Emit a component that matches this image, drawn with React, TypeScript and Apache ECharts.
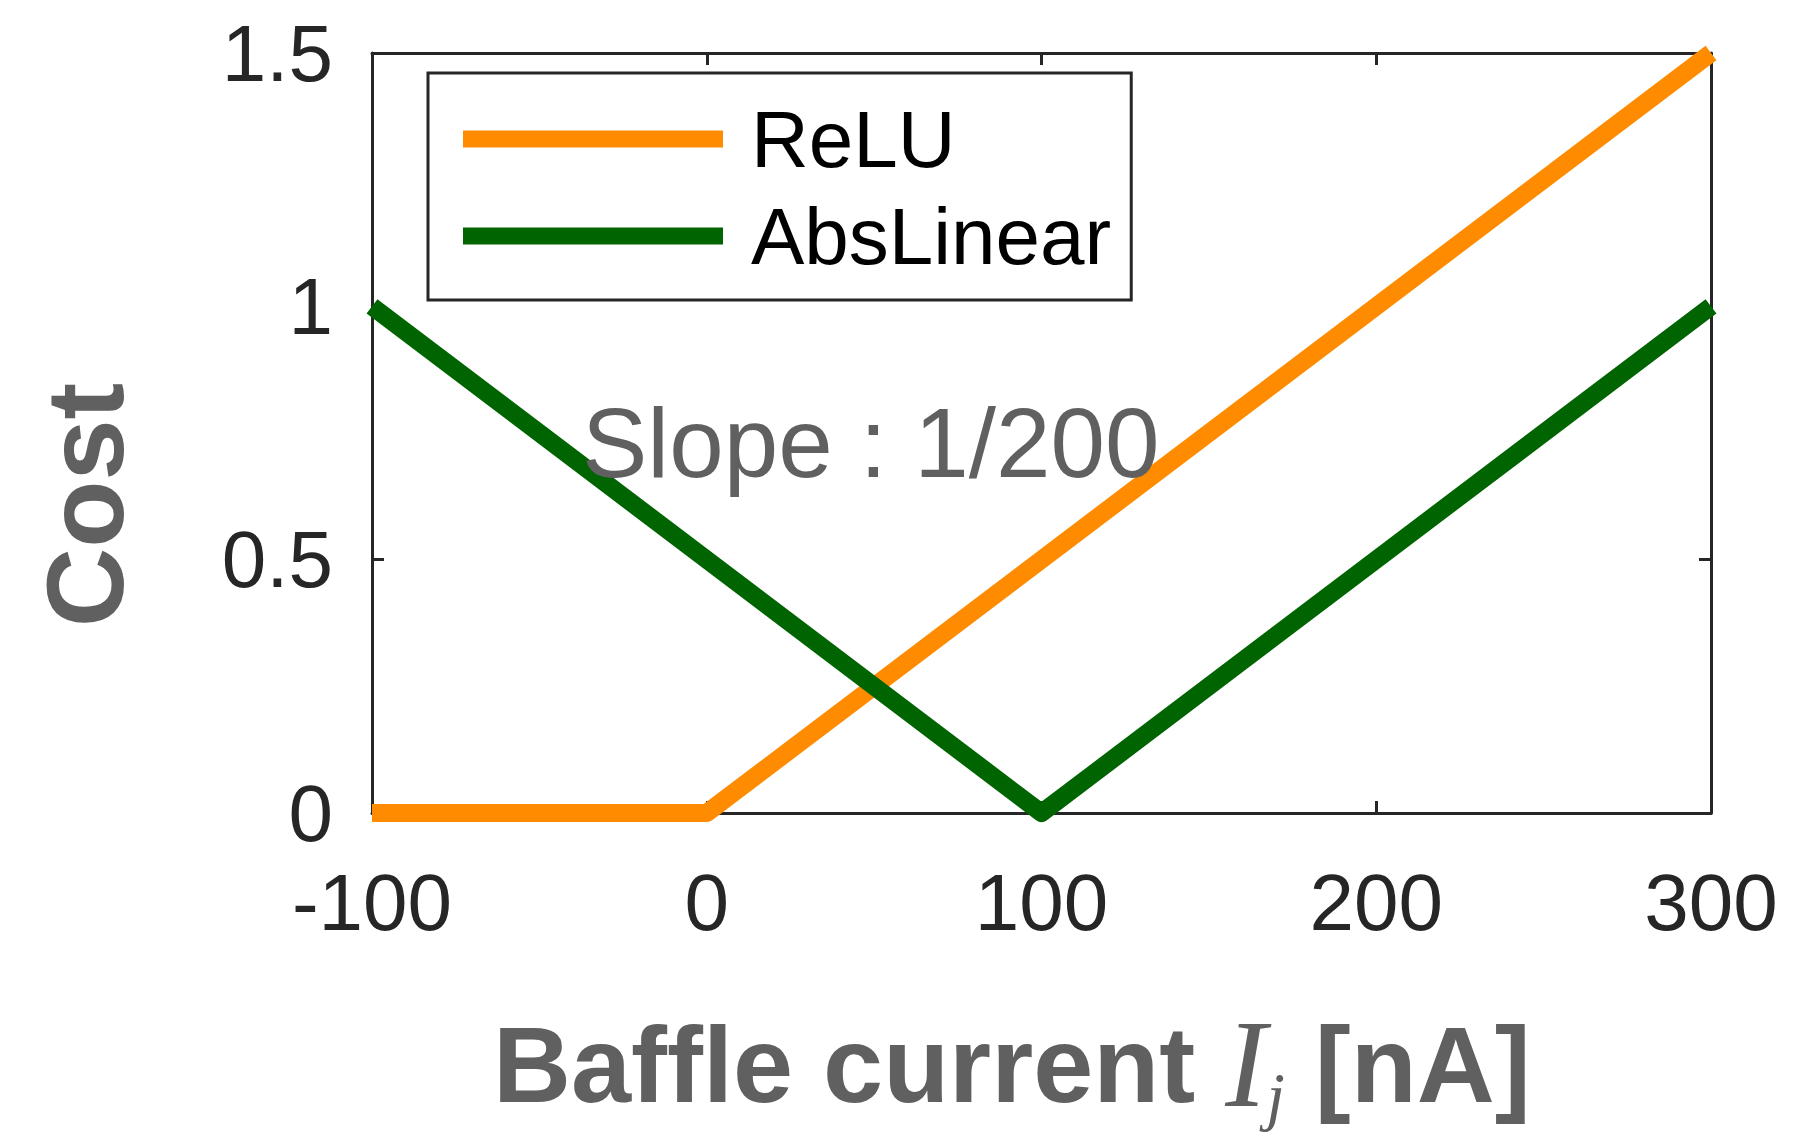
import React, { useEffect, useRef } from "react";
import * as echarts from "echarts";

const xTicks = [-100, 0, 100, 200, 300];
const yTicks = [0, 0.5, 1, 1.5];
const reluX = [-100, 0, 300];
const reluY = [0, 0, 1.5];
const absX = [-100, 100, 300];
const absY = [1, 0, 1];
const seriesNames = ["ReLU", "AbsLinear"];
const seriesColors = ["#FF8C00", "#006400"];
const annotation = "Slope : 1/200";

export default function App() {
  const ref = useRef<HTMLDivElement>(null);
  useEffect(() => {
    document.body.style.margin = "0";
    const chart = echarts.init(ref.current!, null, { renderer: "svg" });
    const axisColor = "#262626";
    const sans = "Liberation Sans";
    const tickCommon = {
      show: true,
      inside: true,
      length: 12,
      lineStyle: { color: axisColor, width: 3 },
    };
    const lineCommon = { show: true, onZero: false, lineStyle: { color: axisColor, width: 3 } };
    chart.setOption({
      animation: false,
      backgroundColor: "#ffffff",
      grid: { left: 372, top: 53, width: 1339, height: 760, containLabel: false },
      xAxis: [
        {
          type: "value",
          min: xTicks[0],
          max: xTicks[xTicks.length - 1],
          interval: 100,
          position: "bottom",
          axisLine: lineCommon,
          axisTick: tickCommon,
          splitLine: { show: false },
          axisLabel: { color: axisColor, fontSize: 80, fontFamily: sans, margin: 49 },
        },
        {
          type: "value",
          min: xTicks[0],
          max: xTicks[xTicks.length - 1],
          interval: 100,
          position: "top",
          axisLine: lineCommon,
          axisTick: tickCommon,
          splitLine: { show: false },
          axisLabel: { show: false },
        },
      ],
      yAxis: [
        {
          type: "value",
          min: yTicks[0],
          max: yTicks[yTicks.length - 1],
          interval: 0.5,
          position: "left",
          axisLine: lineCommon,
          axisTick: tickCommon,
          splitLine: { show: false },
          axisLabel: { color: axisColor, fontSize: 80, fontFamily: sans, margin: 39 },
        },
        {
          type: "value",
          min: yTicks[0],
          max: yTicks[yTicks.length - 1],
          interval: 0.5,
          position: "right",
          axisLine: lineCommon,
          axisTick: tickCommon,
          splitLine: { show: false },
          axisLabel: { show: false },
        },
      ],
      legend: {
        orient: "vertical",
        left: 428,
        top: 73,
        padding: [26, 20, 24, 35],
        itemGap: 17,
        itemWidth: 260,
        itemHeight: 17,
        icon: "rect",
        backgroundColor: "#ffffff",
        borderColor: axisColor,
        borderWidth: 3,
        textStyle: { color: "#000000", fontSize: 80, fontFamily: sans, padding: [0, 0, 0, 23] },
        data: seriesNames,
      },
      series: [
        {
          name: seriesNames[0],
          type: "line",
          data: reluX.map((x, i) => [x, reluY[i]]),
          showSymbol: false,
          symbol: "none",
          clip: false,
          color: seriesColors[0],
          lineStyle: { color: seriesColors[0], width: 18, join: "round", cap: "butt" },
        },
        {
          name: seriesNames[1],
          type: "line",
          data: absX.map((x, i) => [x, absY[i]]),
          showSymbol: false,
          symbol: "none",
          clip: false,
          color: seriesColors[1],
          lineStyle: { color: seriesColors[1], width: 18, join: "round", cap: "butt" },
        },
      ],
      graphic: [
        {
          type: "text",
          x: 582,
          y: 443,
          z: 100,
          style: {
            text: annotation,
            fill: "#606060",
            fontSize: 98,
            fontFamily: sans,
            verticalAlign: "middle",
            align: "left",
          },
        },
        {
          type: "text",
          x: 84,
          y: 505,
          rotation: Math.PI / 2,
          style: {
            text: "Cost",
            fill: "#606060",
            fontSize: 110,
            fontWeight: "bold",
            fontFamily: sans,
            align: "center",
            verticalAlign: "middle",
          },
        },
        {
          type: "text",
          x: 493,
          y: 1064,
          style: {
            text: "{b|Baffle current }{i|I}{s|j}{b| [nA]}",
            align: "left",
            verticalAlign: "middle",
            rich: {
              b: {
                fill: "#606060",
                fontSize: 108,
                fontWeight: "bold",
                fontFamily: sans,
                verticalAlign: "middle",
              },
              i: {
                fill: "#606060",
                fontSize: 124,
                fontStyle: "italic",
                fontFamily: "Liberation Serif",
                verticalAlign: "middle",
              },
              s: {
                fill: "#606060",
                fontSize: 66,
                fontStyle: "italic",
                fontFamily: "Liberation Serif",
                verticalAlign: "middle",
                padding: [62, 0, 0, 0],
              },
            },
          },
        },
      ],
    });
    return () => chart.dispose();
  }, []);
  return (
    <div
      ref={ref}
      style={{ position: "absolute", left: 0, top: 0, width: 1819, height: 1138 }}
    />
  );
}
